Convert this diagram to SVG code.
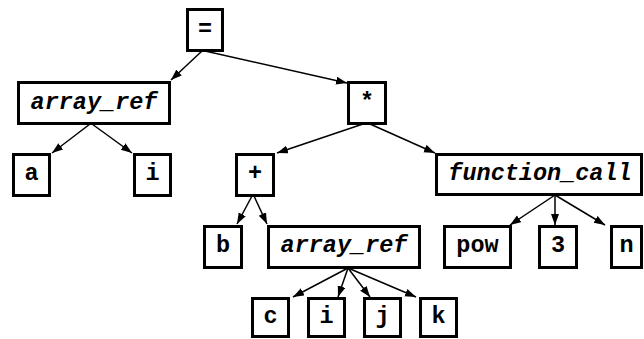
<svg xmlns="http://www.w3.org/2000/svg" width="644" height="339" viewBox="0 0 644 339">
  <style>
    .box { fill: #ffffff; stroke: #000000; stroke-width: 3; }
    .lbl { font-family: "Liberation Mono", "Courier New", monospace; font-weight: bold; font-size: 23.5px; text-anchor: middle; fill: #000000; }
    .it { font-style: italic; }
    .edge { fill: none; stroke: #000000; stroke-width: 1.5; marker-end: url(#arrow); }
  </style>
  <defs>
    <marker id="arrow" markerUnits="userSpaceOnUse" markerWidth="12" markerHeight="9" refX="11" refY="4" orient="auto">
      <path d="M0,0 L11,4 L0,8 z" fill="#000000"/>
    </marker>
  </defs>
  <rect width="644" height="339" fill="#ffffff"/>

  <g id="connectors">
    <line class="edge" x1="202" y1="51" x2="171" y2="80"/>
    <line class="edge" x1="205" y1="51" x2="347" y2="83"/>
    <line class="edge" x1="90" y1="124" x2="52" y2="153"/>
    <line class="edge" x1="92" y1="124" x2="132" y2="153"/>
    <line class="edge" x1="363" y1="124" x2="277" y2="153"/>
    <line class="edge" x1="370" y1="124" x2="435" y2="153"/>
    <line class="edge" x1="252" y1="196" x2="237" y2="224"/>
    <line class="edge" x1="254" y1="196" x2="267" y2="224"/>
    <line class="edge" x1="348" y1="268" x2="293" y2="297"/>
    <line class="edge" x1="348" y1="268" x2="338" y2="297"/>
    <line class="edge" x1="348" y1="268" x2="370" y2="297"/>
    <line class="edge" x1="348" y1="268" x2="416" y2="297"/>
    <line class="edge" x1="555" y1="195" x2="510" y2="225"/>
    <line class="edge" x1="555" y1="195" x2="555" y2="225"/>
    <line class="edge" x1="555" y1="195" x2="605" y2="225"/>
  </g>

  <g id="assign">
    <rect class="box" x="187.5" y="9.5" width="35" height="41"/>
    <text class="lbl" x="205" y="35.5">=</text>
  </g>
  <g id="array_ref_1">
    <rect class="box" x="18.5" y="82.5" width="151" height="41"/>
    <text class="lbl it" x="94" y="108.5">array_ref</text>
  </g>
  <g id="mul">
    <rect class="box" x="348.5" y="82.5" width="37" height="41"/>
    <text class="lbl" x="367" y="108.5">*</text>
  </g>
  <g id="a">
    <rect class="box" x="13.5" y="154.5" width="36" height="41"/>
    <text class="lbl" x="31.5" y="180">a</text>
  </g>
  <g id="i_1">
    <rect class="box" x="134.5" y="154.5" width="36" height="41"/>
    <text class="lbl" x="152.5" y="180">i</text>
  </g>
  <g id="add">
    <rect class="box" x="236.5" y="154.5" width="37" height="41"/>
    <text class="lbl" x="255" y="180">+</text>
  </g>
  <g id="function_call">
    <rect class="box" x="436.5" y="154.5" width="205" height="40"/>
    <text class="lbl it" x="540" y="180">function_call</text>
  </g>
  <g id="b">
    <rect class="box" x="204.5" y="226.5" width="37" height="41"/>
    <text class="lbl" x="223" y="252">b</text>
  </g>
  <g id="array_ref_2">
    <rect class="box" x="268.5" y="226.5" width="151" height="41"/>
    <text class="lbl it" x="344" y="252">array_ref</text>
  </g>
  <g id="pow">
    <rect class="box" x="444.5" y="226.5" width="66" height="41"/>
    <text class="lbl" x="477.5" y="252">pow</text>
  </g>
  <g id="three">
    <rect class="box" x="539.5" y="226.5" width="37" height="41"/>
    <text class="lbl" x="558" y="252">3</text>
  </g>
  <g id="n">
    <rect class="box" x="611.5" y="226.5" width="30" height="41"/>
    <text class="lbl" x="626.5" y="252">n</text>
  </g>
  <g id="c">
    <rect class="box" x="252.5" y="298.5" width="36" height="38"/>
    <text class="lbl" x="270.5" y="323">c</text>
  </g>
  <g id="i_2">
    <rect class="box" x="308.5" y="298.5" width="36" height="38"/>
    <text class="lbl" x="326.5" y="323">i</text>
  </g>
  <g id="j">
    <rect class="box" x="364.5" y="298.5" width="36" height="38"/>
    <text class="lbl" x="382.5" y="323">j</text>
  </g>
  <g id="k">
    <rect class="box" x="420.5" y="298.5" width="36" height="38"/>
    <text class="lbl" x="438.5" y="323">k</text>
  </g>
</svg>
